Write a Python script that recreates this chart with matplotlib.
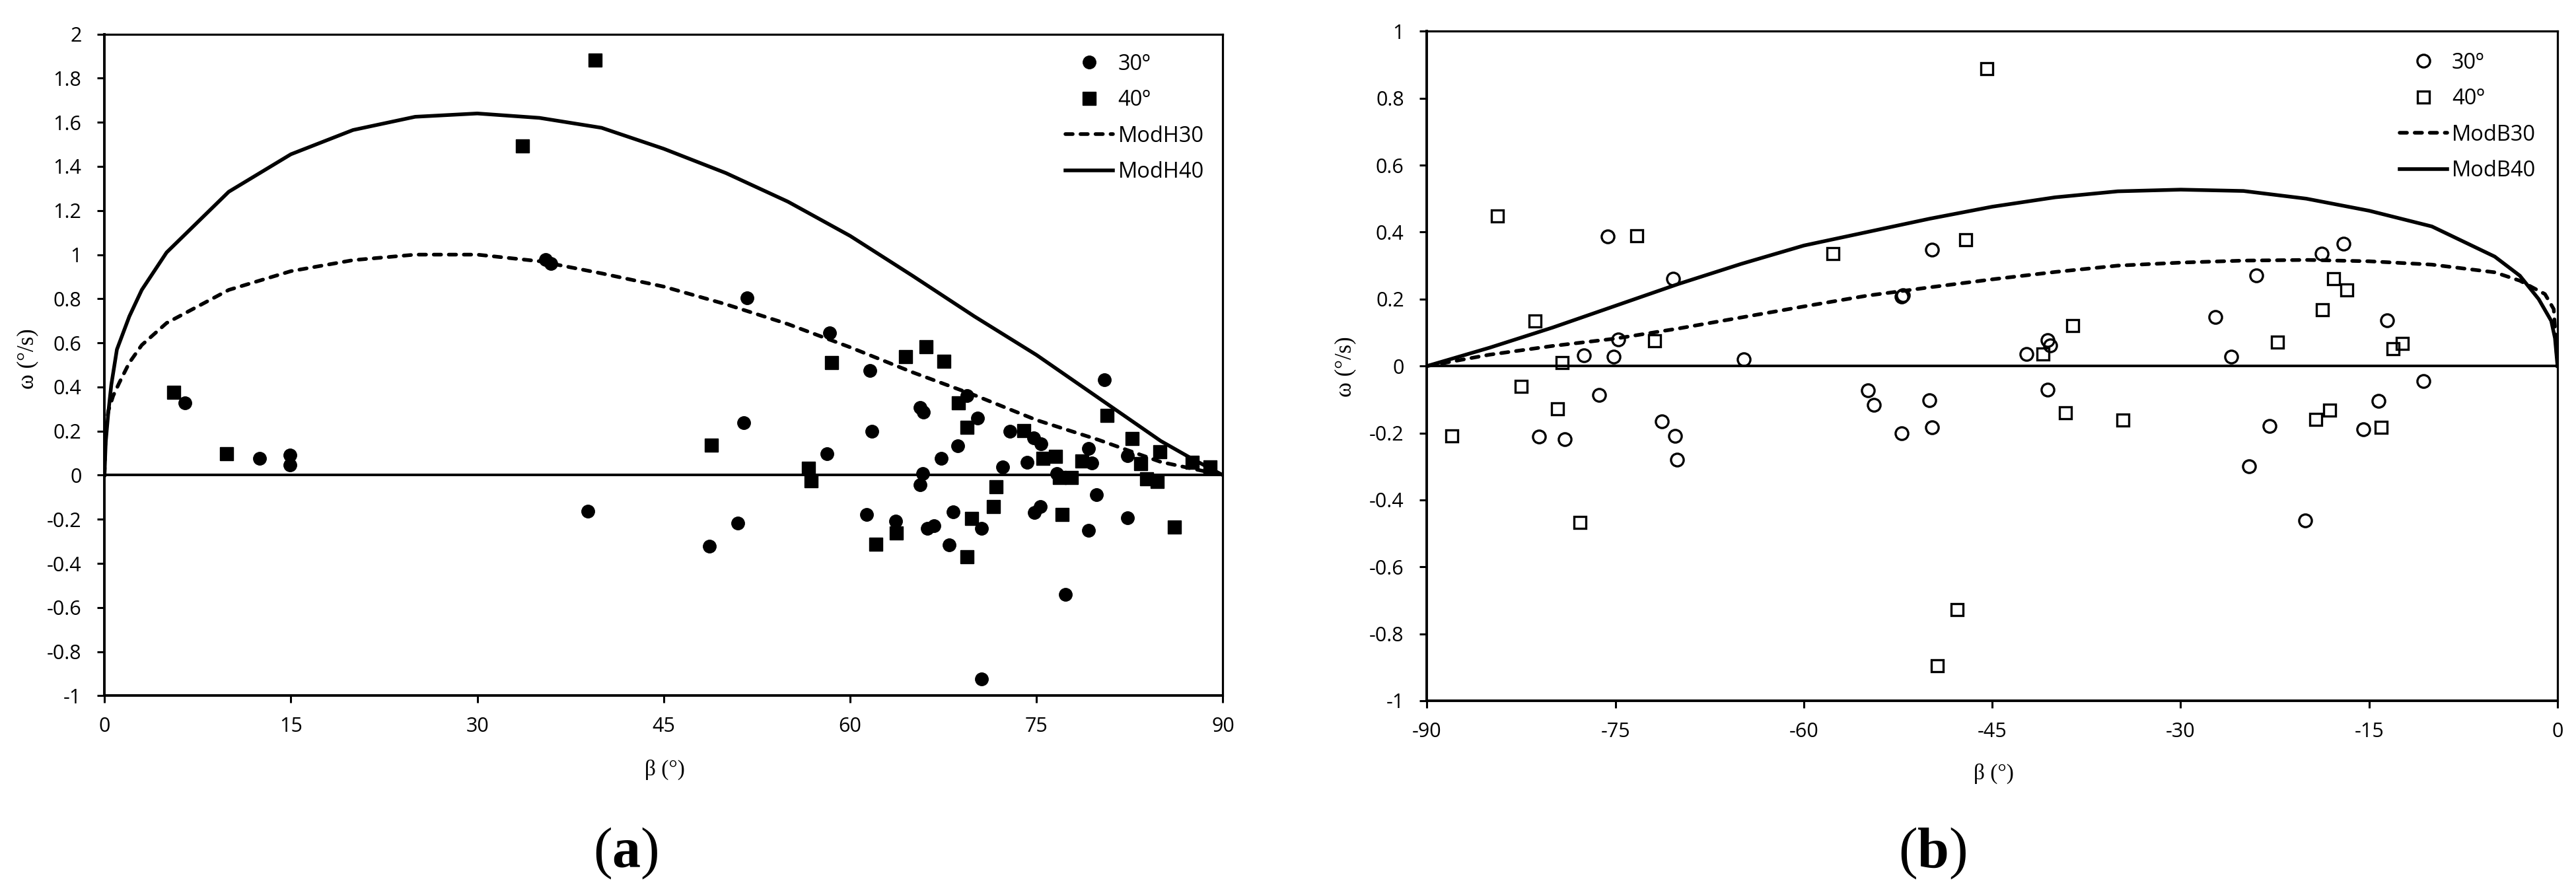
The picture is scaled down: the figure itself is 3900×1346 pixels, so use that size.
import matplotlib
matplotlib.use('Agg')
import matplotlib.pyplot as plt
from matplotlib import font_manager

# ---------------- data ----------------
# Panel (a)
a30_beta = [6.5, 12.47, 14.9, 14.9, 35.5, 35.9, 38.9, 51.7, 58.36, 61.58, 69.42, 65.62, 65.92,
            70.23, 80.44, 51.44, 61.75, 72.88, 74.77, 75.38, 68.64, 79.18, 58.16, 67.35, 79.45,
            82.34, 72.26, 74.23, 76.64, 65.82, 65.62, 79.8, 75.28, 74.84, 82.34, 79.18, 77.32,
            70.57, 61.35, 63.65, 66.23, 66.77, 68.3, 70.57, 67.96, 50.97, 48.66]
a30_omega = [0.327, 0.076, 0.090, 0.047, 0.978, 0.961, -0.164, 0.804, 0.646, 0.474, 0.360, 0.308, 0.285,
             0.259, 0.434, 0.237, 0.198, 0.199, 0.170, 0.142, 0.133, 0.122, 0.097, 0.076, 0.055,
             0.087, 0.036, 0.057, 0.007, 0.007, -0.043, -0.088, -0.142, -0.168, -0.192, -0.249, -0.541,
             -0.925, -0.178, -0.209, -0.242, -0.228, -0.166, -0.242, -0.317, -0.216, -0.321]
a40_beta = [39.46, 33.66, 5.59, 9.8, 58.5, 64.47, 66.13, 67.55, 68.74, 69.42, 80.67, 48.83, 73.96,
            82.71, 84.95, 75.52, 76.54, 78.67, 83.39, 87.52, 88.98, 56.67, 56.84, 76.84, 77.79,
            83.86, 84.71, 71.72, 71.52, 77.08, 86.1, 63.72, 62.09, 69.76, 69.38]
a40_omega = [1.881, 1.494, 0.377, 0.097, 0.509, 0.537, 0.582, 0.516, 0.327, 0.216, 0.272, 0.136, 0.202,
             0.165, 0.107, 0.076, 0.086, 0.064, 0.052, 0.059, 0.036, 0.031, -0.026, -0.011, -0.011,
             -0.018, -0.028, -0.054, -0.142, -0.178, -0.235, -0.263, -0.313, -0.196, -0.370]
modH30_beta = [0, 0.1, 0.3, 0.7, 1.2, 2, 3, 5, 10, 15, 20, 25, 30, 35, 40, 45, 50, 55, 60, 65, 70, 75, 80, 85, 90]
modH30_omega = [0, 0.2, 0.29, 0.36, 0.42, 0.51, 0.59, 0.69, 0.84, 0.925, 0.975, 1.0, 1.0, 0.97, 0.915,
                0.855, 0.775, 0.685, 0.58, 0.467, 0.363, 0.25, 0.16, 0.06, 0.0]
modH40_beta = [0, 0.1, 0.3, 0.55, 1, 2, 3, 5, 10, 15, 20, 25, 30, 35, 40, 45, 50, 55, 60, 65, 70, 75, 80, 85, 87.5, 90]
modH40_omega = [0, 0.15, 0.28, 0.41, 0.57, 0.72, 0.84, 1.01, 1.285, 1.455, 1.565, 1.625, 1.64, 1.62, 1.575,
                1.48, 1.37, 1.24, 1.085, 0.905, 0.72, 0.545, 0.35, 0.155, 0.075, 0.0]

# Panel (b)
b30_beta = [-81.1, -79.05, -77.5, -76.3, -75.6, -75.15, -74.8, -70.4, -71.3, -70.25, -70.1, -64.8,
            -54.9, -54.4, -52.2, -52.1, -52.2, -49.8, -50.0, -49.8, -42.3, -40.6, -40.4, -40.6,
            -27.25, -26.0, -24.0, -22.95, -24.56, -18.76, -17.05, -13.56, -10.7, -14.23, -15.47, -20.07]
b30_omega = [-0.211, -0.219, 0.031, -0.087, 0.388, 0.028, 0.080, 0.260, -0.165, -0.209, -0.279, 0.021,
             -0.073, -0.116, 0.207, 0.212, -0.200, 0.347, -0.102, -0.184, 0.036, 0.077, 0.061, -0.071,
             0.146, 0.028, 0.270, -0.179, -0.300, 0.335, 0.365, 0.137, -0.045, -0.104, -0.190, -0.462]
b40_beta = [-88.05, -84.4, -81.4, -82.5, -79.25, -79.6, -73.3, -71.9, -57.7, -77.84, -49.4, -45.44,
            -47.1, -40.94, -38.6, -39.2, -34.6, -22.3, -17.8, -16.8, -18.7, -19.26, -18.15, -13.1,
            -12.35, -14.06, -47.8]
b40_omega = [-0.209, 0.448, 0.135, -0.061, 0.011, -0.127, 0.389, 0.075, 0.336, -0.467, -0.895, 0.888,
             0.377, 0.036, 0.121, -0.139, -0.162, 0.071, 0.261, 0.228, 0.168, -0.160, -0.132, 0.052,
             0.068, -0.184, -0.728]
modB30_beta = [-90, -85, -80, -75, -70, -65, -60, -55, -50, -45, -40, -35, -30, -25, -20, -15, -10, -5, -3, -1, -0.3, 0]
modB30_omega = [0, 0.034, 0.06, 0.082, 0.112, 0.145, 0.178, 0.21, 0.235, 0.259, 0.281, 0.30, 0.309, 0.315,
                0.317, 0.313, 0.303, 0.28, 0.255, 0.215, 0.17, 0]
modB40_beta = [-90, -85, -80, -75, -70, -65, -60, -55, -50, -45, -40, -35, -30, -25, -20, -15, -10, -5, -3, -1.5, -0.5, -0.2, 0]
modB40_omega = [0, 0.055, 0.115, 0.18, 0.245, 0.305, 0.36, 0.40, 0.44, 0.476, 0.504, 0.522, 0.527, 0.523,
                0.50, 0.464, 0.417, 0.327, 0.27, 0.20, 0.135, 0.083, 0]

a_xticks = [0, 15, 30, 45, 60, 75, 90]
a_yticks = [2, 1.8, 1.6, 1.4, 1.2, 1, 0.8, 0.6, 0.4, 0.2, 0, -0.2, -0.4, -0.6, -0.8, -1]
b_xticks = [-90, -75, -60, -45, -30, -15, 0]
b_yticks = [1, 0.8, 0.6, 0.4, 0.2, 0, -0.2, -0.4, -0.6, -0.8, -1]

# ---------------- fonts ----------------
names = {f.name for f in font_manager.fontManager.ttflist}
SANS = 'Open Sans' if 'Open Sans' in names else 'DejaVu Sans'
SERIF = 'Liberation Serif' if 'Liberation Serif' in names else 'DejaVu Serif'
plt.rcParams['font.family'] = [SANS, 'DejaVu Sans']
plt.rcParams['mathtext.fontset'] = 'custom'
plt.rcParams['mathtext.rm'] = SERIF
plt.rcParams['mathtext.bf'] = SERIF + ':bold'

TICK_FS = 22
LEG_FS = 23.5
LINE_W = 4.0
DASH = (0, (2.0, 2.1))

fig = plt.figure(figsize=(39, 13.46), dpi=100)
axA = fig.add_axes([0.04056, 0.21738, 0.43418, 0.7443])
axB = fig.add_axes([0.55397, 0.21174, 0.43885, 0.75305])


def fmt(v):
    s = f"{round(v, 2):g}"
    return '0' if s in ('-0', '0') else s


def style(ax, xlim, ylim, xticks, yticks):
    ax.set_xlim(xlim)
    ax.set_ylim(ylim)
    ax.set_xticks(xticks)
    ax.set_xticklabels([fmt(v) for v in xticks])
    ax.set_yticks(yticks)
    ax.set_yticklabels([fmt(v) for v in yticks])
    ax.axhline(0, color='black', lw=2.8, zorder=1.5)
    for s in ['left', 'bottom']:
        ax.spines[s].set_linewidth(2.8)
    for s in ['top', 'right']:
        ax.spines[s].set_linewidth(2.3)
    ax.tick_params(axis='y', direction='out', length=8, width=2.2, labelsize=TICK_FS, pad=17)
    ax.tick_params(axis='x', direction='out', length=8, width=2.2, labelsize=TICK_FS, pad=15)


# ---- panel (a)
axA.plot(a30_beta, a30_omega, ls='none', marker='o', ms=14.0, color='black', mec='black', zorder=3, label='30º')
axA.plot(a40_beta, a40_omega, ls='none', marker='s', ms=14.3, color='black', mec='black', zorder=3, label='40º')
axA.plot(modH30_beta, modH30_omega, ls=DASH, lw=LINE_W, color='black', dash_capstyle='round', zorder=2, label='ModH30')
axA.plot(modH40_beta, modH40_omega, ls='-', lw=LINE_W, color='black', zorder=2, label='ModH40')
style(axA, (0, 90), (-1, 2), a_xticks, a_yticks)

# ---- panel (b)
axB.plot(b30_beta, b30_omega, ls='none', marker='o', ms=13.8, mfc='none', mec='black', mew=2.4, zorder=3, label='30º')
axB.plot(b40_beta, b40_omega, ls='none', marker='s', ms=13.5, mfc='none', mec='black', mew=2.4, zorder=3, label='40º')
axB.plot(modB30_beta, modB30_omega, ls=DASH, lw=LINE_W, color='black', dash_capstyle='round', zorder=2, label='ModB30')
axB.plot(modB40_beta, modB40_omega, ls='-', lw=LINE_W, color='black', zorder=2, label='ModB40')
style(axB, (-90, 0), (-1, 1), b_xticks, b_yticks)

for ax, x0, y0 in [(axA, 0.8594, 0.971), (axB, 0.8604, 0.969)]:
    ax.legend(loc='upper left', bbox_to_anchor=(x0, y0), frameon=False, borderaxespad=0,
              borderpad=0, handlelength=2.2, handletextpad=0.22, labelspacing=0.66,
              fontsize=LEG_FS)

W, H = 3900, 1346
# axis labels
fig.text(1006 / W, 1 - 1165 / H, 'β (°)', ha='center', va='center', family=SERIF, fontsize=24)
fig.text(3018 / W, 1 - 1171 / H, 'β (°)', ha='center', va='center', family=SERIF, fontsize=24)
fig.text(41.5 / W, 1 - 543 / H, 'ω (°/s)', ha='center', va='center', rotation=90, family=SERIF, fontsize=25)
fig.text(2037 / W, 1 - 555 / H, 'ω (°/s)', ha='center', va='center', rotation=90, family=SERIF, fontsize=25)
# panel labels
fig.text(947 / W, 1 - 1291 / H, r'$(\mathbf{a})$', ha='center', va='center', fontsize=62)
fig.text(2926 / W, 1 - 1291 / H, r'$(\mathbf{b})$', ha='center', va='center', fontsize=62)

fig.savefig('out.png', dpi=100, facecolor='white')
